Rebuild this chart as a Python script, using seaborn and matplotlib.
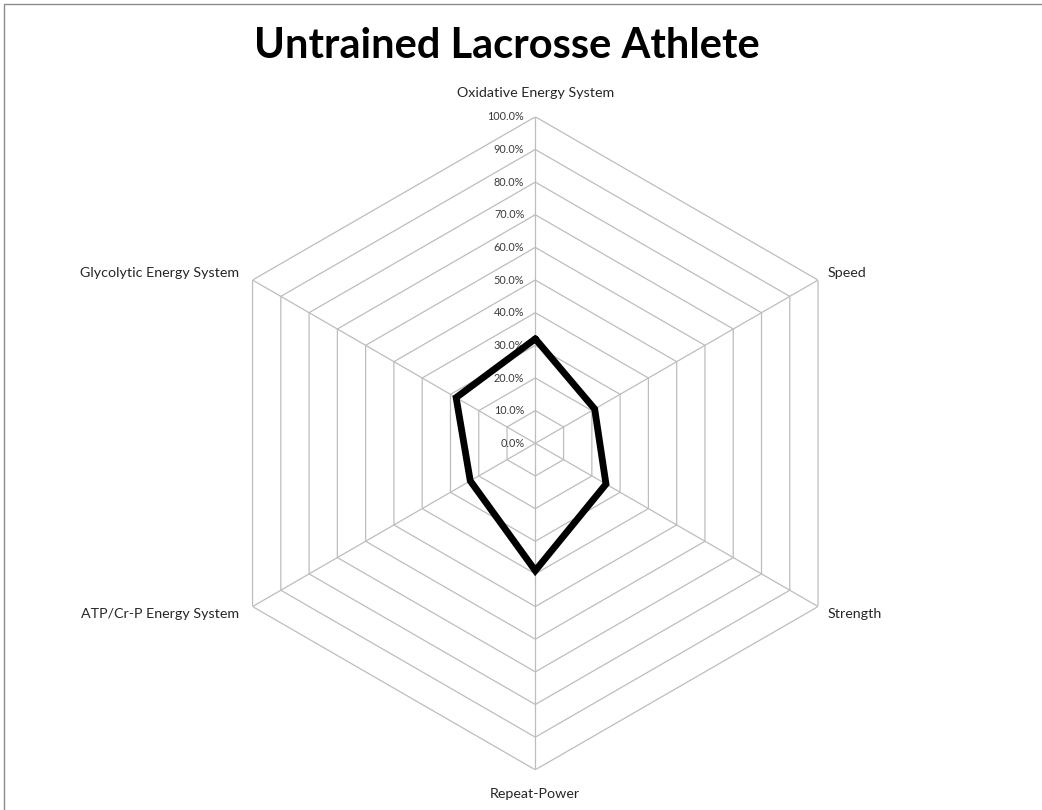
import numpy as np
import pandas as pd
import matplotlib
matplotlib.use("Agg")
import matplotlib.pyplot as plt
from matplotlib.patches import Rectangle
import seaborn as sns

# Chart data
title = "Untrained Lacrosse Athlete"
categories = ["Oxidative Energy System", "Speed", "Strength",
              "Repeat-Power", "ATP/Cr-P Energy System", "Glycolytic Energy System"]
scores = [0.32, 0.21, 0.25, 0.39, 0.23, 0.28]
grid_levels = [0.0, 0.1, 0.2, 0.3, 0.4, 0.5, 0.6, 0.7, 0.8, 0.9, 1.0]
grid_labels = ["0.0%", "10.0%", "20.0%", "30.0%", "40.0%", "50.0%",
               "60.0%", "70.0%", "80.0%", "90.0%", "100.0%"]

sns.set_theme(style="white")
plt.rcParams["font.family"] = ["Lato", "DejaVu Sans"]

W, H = 1042, 810
fig = plt.figure(figsize=(W / 100, H / 100), dpi=100)

# Outer chart-area frame (top and left edges visible)
fig.patches.append(Rectangle((3.5 / W, -0.5), 2.0, 1.5 - 4.0 / H,
                             transform=fig.transFigure, fill=False,
                             edgecolor="#8c8c8c", linewidth=1.0))

cx, cy, rad = 535.3, 443.3, 326.5
ax = fig.add_axes([(cx - rad) / W, (H - cy - rad) / H, 2 * rad / W, 2 * rad / H],
                  projection="polar")
ax.set_theta_offset(np.pi / 2)
ax.set_theta_direction(-1)
ax.set_ylim(0, 1.0)
ax.grid(False)
ax.spines["polar"].set_visible(False)
ax.set_xticks([])
ax.set_yticks([])
ax.patch.set_alpha(0)

n = len(categories)
theta = np.arange(n) * 2 * np.pi / n
theta_closed = np.append(theta, 2 * np.pi)

# Hexagonal rings and spokes
for lvl in grid_levels[1:]:
    ax.plot(theta_closed, [lvl] * (n + 1), color="#bdbdbd", lw=0.9, zorder=1)
for t in theta:
    ax.plot([t, t], [0, 1.0], color="#bdbdbd", lw=0.9, zorder=1)

# Ring value labels along the top spoke
for lvl, lab in zip(grid_levels, grid_labels):
    ax.annotate(lab, xy=(0, lvl), xytext=(-11, 0), textcoords="offset pixels",
                ha="right", va="center", fontsize=7.8, color="#3a3a3a",
                annotation_clip=False)

# Data polygon (closed back to the first axis)
df = pd.DataFrame({"theta": theta_closed, "score": scores + [scores[0]]})
sns.lineplot(data=df, x="theta", y="score", sort=False, estimator=None, ax=ax,
             color="black", lw=4.9, zorder=3, legend=False)
ax.lines[-1].set_solid_joinstyle("miter")
ax.set_xlabel("")
ax.set_ylabel("")

# Category labels around the hexagon
offsets = [(0, 24, "center"), (10, 7, "left"), (10, -7, "left"),
           (0, -24, "center"), (-13, -7, "right"), (-13, 7, "right")]
for t, cat, (dx, dy, ha) in zip(theta, categories, offsets):
    ax.annotate(cat, xy=(t, 1.0), xytext=(dx, dy), textcoords="offset pixels",
                ha=ha, va="center", fontsize=10.3, color="#262626",
                annotation_clip=False)

fig.text(507 / W, 1 - 46 / H, title, ha="center", va="center",
         fontsize=30, fontweight="bold", color="black")

fig.savefig("out.png", dpi=100)
